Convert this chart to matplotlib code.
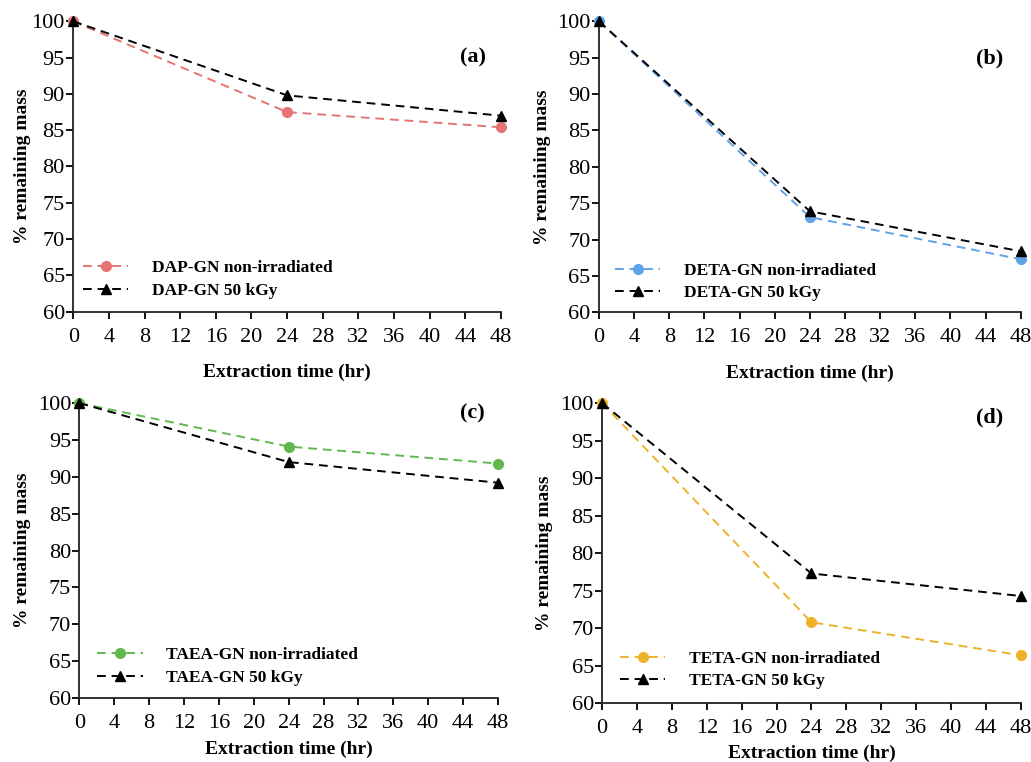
import matplotlib
matplotlib.use("Agg")
import matplotlib.pyplot as plt

plt.rcParams['font.family'] = ['Liberation Serif', 'DejaVu Serif']

# extraction time (hr)
hours = [0, 24, 48]

# % remaining mass
dap_non = [100, 87.5, 85.4]
dap_irr = [100, 89.8, 87.0]
deta_non = [100, 73.1, 67.3]
deta_irr = [100, 73.9, 68.4]
taea_non = [100, 94.1, 91.8]
taea_irr = [100, 92.0, 89.2]
teta_non = [100, 70.8, 66.4]
teta_irr = [100, 77.3, 74.3]

# tag, name, series, colour, axes rect, tag pos, legend anchor, ylabel x, xlabel pad
panels = [
    ('(a)', 'DAP-GN', dap_non, dap_irr, '#e57373', [0.071, 0.591, 0.415, 0.381],
     (0.935, 0.875), (0.023, 0.045), -0.098, 12.5),
    ('(b)', 'DETA-GN', deta_non, deta_irr, '#5fa3e6', [0.581, 0.590, 0.409, 0.382],
     (0.927, 0.873), (0.038, 0.038), -0.114, 12.5),
    ('(c)', 'TAEA-GN', taea_non, taea_irr, '#62b84e', [0.077, 0.084, 0.406, 0.387],
     (0.94, 0.965), (0.043, 0.042), -0.115, 5.5),
    ('(d)', 'TETA-GN', teta_non, teta_irr, '#eeb22a', [0.584, 0.077, 0.406, 0.394],
     (0.926, 0.953), (0.043, 0.048), -0.117, 4.5),
]

fig = plt.figure(figsize=(10.31, 7.62), dpi=100)

for tag, name, non, irr, col, rect, tagpos, legpos, ylx, xpad in panels:
    ax = fig.add_axes(rect)
    ax.plot(hours, non, ls=(0, (4.5, 3)), lw=1.4, color=col, marker='o', ms=7,
            label=name + ' non-irradiated', clip_on=False, zorder=3)
    ax.plot(hours, irr, ls=(0, (4.5, 3)), lw=1.4, color='black', marker='^', ms=7,
            label=name + ' 50 kGy', clip_on=False, zorder=4)
    ax.set_xlim(0, 48)
    ax.set_ylim(60, 100)
    ax.set_xticks(range(0, 49, 4))
    ax.set_yticks(range(60, 101, 5))
    ax.spines['top'].set_visible(False)
    ax.spines['right'].set_visible(False)
    for side in ['left', 'bottom']:
        ax.spines[side].set_linewidth(1.3)
        ax.spines[side].set_color('#222222')
    ax.tick_params(direction='out', length=5, width=1.3, labelsize=16)
    ax.tick_params(axis='x', pad=6.5)
    ax.tick_params(axis='y', pad=1)
    ax.set_xlabel('Extraction time (hr)', fontsize=14, fontweight='bold', labelpad=xpad)
    ax.set_ylabel('% remaining mass', fontsize=14, fontweight='bold')
    ax.yaxis.set_label_coords(ylx, 0.5)
    ax.text(tagpos[0], tagpos[1], tag, transform=ax.transAxes, ha='center', va='center',
            fontsize=16, fontweight='bold')
    ax.legend(loc='lower left', bbox_to_anchor=legpos, frameon=False,
              borderpad=0, borderaxespad=0,
              handlelength=2.6, handletextpad=1.35, labelspacing=0.35,
              prop={'weight': 'bold', 'size': 12.5})

fig.savefig('out.png', dpi=100)
